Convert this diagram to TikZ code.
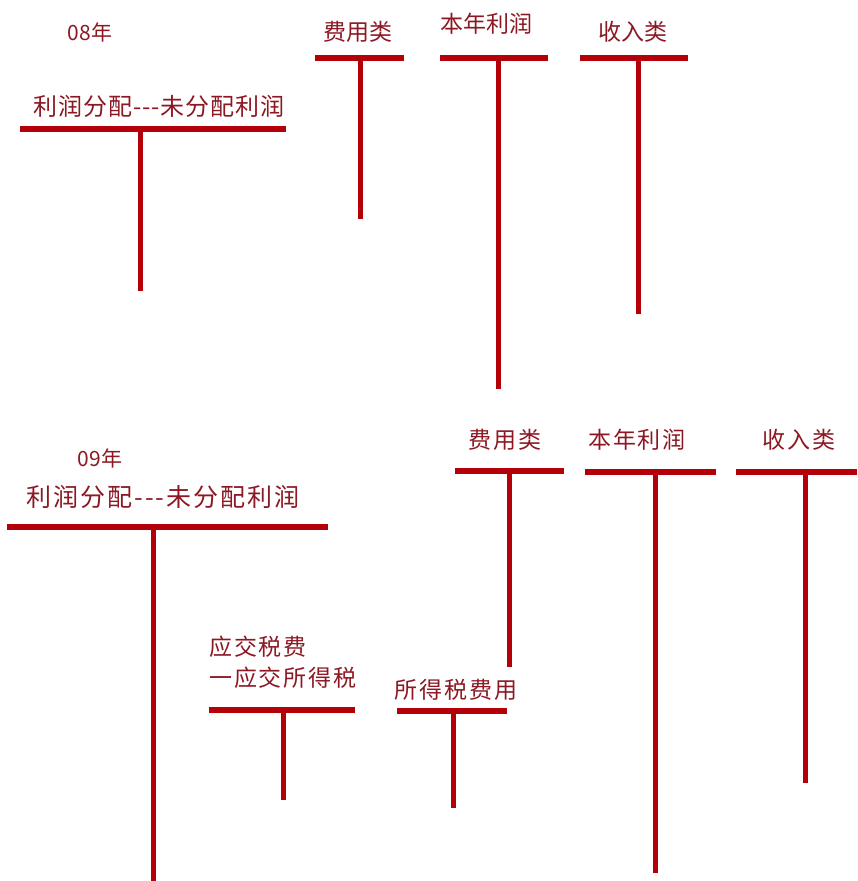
\documentclass[tikz,border=0pt]{standalone}
\usepackage{fontspec}
\newfontfamily\cjk{Noto Sans CJK SC}
\newfontfamily\cjkm[LetterSpace=8]{Noto Sans CJK SC}
\newfontfamily\cjkw[LetterSpace=4]{Noto Sans CJK SC}
\newfontfamily\cjkx[LetterSpace=8]{Noto Sans CJK SC}
\definecolor{txt}{RGB}{140,24,36}
\definecolor{ln}{RGB}{180,0,8}
\begin{document}
\begin{tikzpicture}[x=1pt,y=-1pt,
  lbl/.style={text=txt,inner sep=0pt,font=\cjk\fontsize{23}{26}\selectfont},
  lblb/.style={text=txt,inner sep=0pt,font=\cjkm\fontsize{23}{31}\selectfont},
  lblw/.style={text=txt,inner sep=0pt,font=\cjkw\fontsize{24}{26}\selectfont},
  lblx/.style={text=txt,inner sep=0pt,font=\cjkx\fontsize{25}{26}\selectfont},
  yr/.style={text=txt,inner sep=0pt,font=\cjk\fontsize{21}{24}\selectfont},
  bar/.style={draw=ln,line width=6pt},
  stem/.style={draw=ln,line width=5pt}]
\useasboundingbox (0,0) rectangle (857,881);
% ---------- 08
\node[yr] (y08) at (90,32) {08年};
\node[lblw] (pd1) at (159,106) {利润分配---未分配利润};
\coordinate (pd1L) at (20,129); \coordinate (pd1R) at (286,129);
\coordinate (pd1T) at (140,129); \coordinate (pd1B) at (140,291);
\draw[bar] (pd1L) -- (pd1R); \draw[stem] (pd1T) -- (pd1B);

\node[lbl] (fy1) at (358,32) {费用类};
\coordinate (fy1L) at (315,58); \coordinate (fy1R) at (404,58);
\coordinate (fy1T) at (360,58); \coordinate (fy1B) at (360,219);
\draw[bar] (fy1L) -- (fy1R); \draw[stem] (fy1T) -- (fy1B);

\node[lbl] (bn1) at (486,24) {本年利润};
\coordinate (bn1L) at (440,58); \coordinate (bn1R) at (548,58);
\coordinate (bn1T) at (498,58); \coordinate (bn1B) at (498,389);
\draw[bar] (bn1L) -- (bn1R); \draw[stem] (bn1T) -- (bn1B);

\node[lbl] (sr1) at (633,32) {收入类};
\coordinate (sr1L) at (580,58); \coordinate (sr1R) at (688,58);
\coordinate (sr1T) at (638,58); \coordinate (sr1B) at (638,314);
\draw[bar] (sr1L) -- (sr1R); \draw[stem] (sr1T) -- (sr1B);
% ---------- 09
\node[yr] (y09) at (100,458) {09年};
\node[lblx] (pd2) at (163,497) {利润分配---未分配利润};
\coordinate (pd2L) at (7,527); \coordinate (pd2R) at (328,527);
\coordinate (pd2T) at (153,527); \coordinate (pd2B) at (153,881);
\draw[bar] (pd2L) -- (pd2R); \draw[stem] (pd2T) -- (pd2B);

\node[lblb] (fy2) at (505,440) {费用类};
\coordinate (fy2L) at (455,471); \coordinate (fy2R) at (564,471);
\coordinate (fy2T) at (509,471); \coordinate (fy2B) at (509,667);
\draw[bar] (fy2L) -- (fy2R); \draw[stem] (fy2T) -- (fy2B);

\node[lblb] (bn2) at (637,440) {本年利润};
\coordinate (bn2L) at (585,472); \coordinate (bn2R) at (716,472);
\coordinate (bn2T) at (655,472); \coordinate (bn2B) at (655,873);
\draw[bar] (bn2L) -- (bn2R); \draw[stem] (bn2T) -- (bn2B);

\node[lblb] (sr2) at (799,440) {收入类};
\coordinate (sr2L) at (736,472); \coordinate (sr2R) at (857,472);
\coordinate (sr2T) at (805,472); \coordinate (sr2B) at (805,783);
\draw[bar] (sr2L) -- (sr2R); \draw[stem] (sr2T) -- (sr2B);

\node[lblb,align=left,anchor=west] (yj) at (209,662) {应交税费\\一应交所得税};
\coordinate (yjL) at (209,710); \coordinate (yjR) at (355,710);
\coordinate (yjT) at (283,710); \coordinate (yjB) at (283,800);
\draw[bar] (yjL) -- (yjR); \draw[stem] (yjT) -- (yjB);

\node[lblb] (sd) at (456,690) {所得税费用};
\coordinate (sdL) at (397,711); \coordinate (sdR) at (507,711);
\coordinate (sdT) at (453,711); \coordinate (sdB) at (453,808);
\draw[bar] (sdL) -- (sdR); \draw[stem] (sdT) -- (sdB);
\end{tikzpicture}
\end{document}
